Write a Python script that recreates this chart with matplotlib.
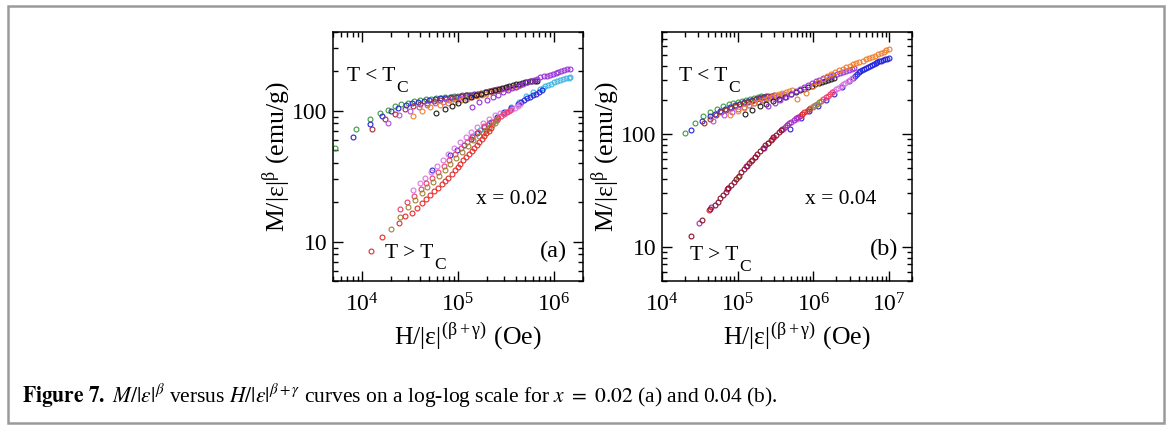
import matplotlib
matplotlib.use('Agg')
import matplotlib.pyplot as plt
from matplotlib.patches import Rectangle
from matplotlib.ticker import LogLocator, NullFormatter, FuncFormatter

# ---- x = 0.02, T < Tc branch (H/|eps|^(b+g) in Oe, M/|eps|^b in emu/g)
a_green_h = [5.2e3, 8.6e3, 1.21e4, 1.53e4, 1.87e4, 2.19e4, 2.57e4, 3.0e4, 3.5e4, 4.0e4, 4.6e4,
             5.2e4, 5.9e4, 6.6e4, 7.4e4, 8.2e4, 9.1e4, 1.0e5, 1.1e5, 1.2e5, 1.3e5]
a_green_m = [52, 72.5, 86, 96, 102, 108, 112, 115.5, 119, 121, 122.5,
             124, 125, 126, 127, 128, 129, 130, 131, 132, 133]
a_blue_h = [8.1e3, 1.22e4, 1.62e4, 2.0e4, 2.4e4, 2.85e4, 3.3e4, 3.8e4, 4.4e4, 5.0e4,
            5.7e4, 6.5e4, 7.4e4, 8.4e4, 9.5e4, 1.07e5, 1.2e5, 1.34e5, 1.48e5, 1.6e5]
a_blue_m = [63.5, 79, 91, 99, 105, 110, 114, 117, 119.5, 121.5,
            123, 124.5, 126, 127, 128.5, 130, 131, 132.5, 134, 135.5]
a_brown_h = [1.26e4, 1.74e4, 2.19e4, 2.79e4, 3.4e4, 4.05e4, 4.8e4, 5.6e4, 6.5e4, 7.5e4, 8.6e4,
             9.8e4, 1.11e5, 1.25e5, 1.4e5, 1.56e5, 1.73e5, 1.92e5, 2.12e5, 2.33e5, 2.5e5]
a_brown_m = [72.6, 86.5, 94.4, 102.5, 108, 112, 115.5, 118.5, 121, 123, 125,
             127, 129, 131, 133, 135, 137, 139, 141, 143, 144.5]
a_violet_h = [1.87e4, 2.43e4, 3.14e4, 3.9e4, 4.8e4, 5.8e4, 6.9e4, 8.1e4, 9.4e4, 1.08e5, 1.23e5,
              1.39e5, 1.56e5, 1.74e5, 1.93e5, 2.13e5, 2.34e5, 2.56e5, 2.8e5, 3.0e5, 3.2e5]
a_violet_m = [81, 92.7, 100, 106, 110.5, 114, 117.5, 120.5, 123, 125.5, 128,
              130.5, 133, 135.5, 138, 140.5, 143, 145.5, 148, 150, 152]
a_orange_h = [3.4e4, 4.25e4, 5.15e4, 6.46e4, 7.8e4, 9.2e4, 1.07e5, 1.23e5, 1.4e5, 1.58e5, 1.77e5,
              1.97e5, 2.18e5, 2.4e5, 2.63e5, 2.87e5, 3.12e5, 3.38e5, 3.65e5, 3.93e5, 4.2e5]
a_orange_m = [91, 99.4, 106, 110, 114, 117.5, 120.5, 123.5, 126.5, 129.5, 132.5,
              135.5, 138.5, 141, 143.5, 146, 148, 150, 151.5, 153, 154.5]
a_black_h = [5.95e4, 7.3e4, 8.7e4, 1.0e5, 1.18e5, 1.36e5, 1.55e5, 1.75e5, 1.96e5, 2.18e5, 2.41e5,
             2.65e5, 2.9e5, 3.16e5, 3.43e5, 3.71e5, 4.0e5, 4.3e5, 4.6e5, 4.92e5, 5.25e5,
             5.6e5, 5.95e5, 6.3e5, 6.7e5]
a_black_m = [95.5, 103, 109, 115, 120, 128, 132, 135.5, 139, 142, 145,
             147.5, 150, 152.5, 155, 157, 159.5, 161.5, 163.5, 165, 166.5,
             167.5, 168.5, 169, 170]
a_purple_h = [1.39e5, 1.67e5, 1.99e5, 2.3e5, 2.63e5, 2.97e5, 3.3e5, 3.65e5, 4.0e5, 4.4e5, 4.8e5,
              5.2e5, 5.7e5, 6.2e5, 6.7e5, 7.2e5, 7.8e5, 8.4e5, 9.0e5, 9.7e5, 1.04e6,
              1.11e6, 1.19e6, 1.27e6, 1.36e6, 1.47e6]
a_purple_m = [107, 116, 122, 128, 133, 139, 144, 148.5, 153, 157.5, 161.5,
              165.5, 169.5, 173, 176.5, 180, 183, 186, 189, 192, 195,
              198, 201.5, 204.5, 207.5, 210]

# ---- x = 0.02, T > Tc branch
a_red_h = [1.23e4, 1.62e4, 2.45e4, 2.82e4, 3.31e4, 3.72e4, 4.17e4, 4.62e4, 5.13e4, 5.62e4,
           6.17e4, 6.76e4, 7.33e4, 7.94e4, 8.61e4, 9.23e4, 9.89e4, 1.059e5, 1.135e5, 1.216e5,
           1.303e5, 1.396e5, 1.479e5, 1.567e5, 1.66e5, 1.758e5, 1.862e5, 1.972e5, 2.089e5, 2.213e5]
a_red_m = [8.5, 10.8, 13.9, 15.6, 16.6, 18.2, 19.6, 21.1, 22.6, 24.3,
           25.7, 27.5, 29.2, 30.9, 33.1, 35.1, 37.2, 39.4, 41.7, 44.2,
           46.8, 49.5, 52.1, 55.0, 57.8, 61.0, 64.1, 67.6, 70.5, 73.3]
a_olive_h = [1.99e4, 2.51e4, 3.02e4, 3.55e4, 4.17e4, 4.79e4, 5.5e4, 6.31e4, 7.24e4, 8.32e4, 9.55e4,
             1.096e5, 1.259e5, 1.445e5, 1.66e5, 1.82e5, 1.95e5, 2.089e5, 2.239e5, 2.399e5, 2.57e5]
a_olive_m = [12.5, 15.5, 18.4, 20.9, 23.4, 26.0, 28.8, 32.0, 35.5, 39.4, 43.7,
             48.4, 53.7, 59.6, 64.0, 67.6, 70.8, 74.1, 77.6, 81.3, 85.1]
a_pink_h = [2.51e4, 2.95e4, 3.47e4, 4.07e4, 4.68e4, 5.37e4, 6.17e4, 7.08e4, 8.13e4, 9.33e4,
            1.072e5, 1.23e5, 1.413e5, 1.622e5, 1.862e5, 2.089e5, 2.291e5, 2.455e5, 2.63e5,
            2.818e5, 3.02e5, 3.236e5, 3.467e5]
a_pink_m = [17.9, 20.0, 22.4, 25.1, 27.9, 30.9, 34.3, 38.0, 42.2, 46.8,
            51.9, 57.5, 63.1, 69.2, 75.9, 80.0, 82.2, 85.1, 88.1,
            91.2, 94.4, 97.7, 101.2]
a_orchid_h = [3.43e4, 3.98e4, 4.57e4, 5.25e4, 6.03e4, 6.92e4, 7.94e4, 9.12e4, 1.047e5, 1.202e5,
              1.38e5, 1.585e5, 1.82e5, 2.089e5, 2.399e5, 2.754e5, 3.162e5, 3.388e5, 3.631e5,
              3.89e5, 4.169e5, 4.467e5]
a_orchid_m = [25.0, 27.9, 30.9, 34.3, 38.0, 42.2, 46.8, 51.9, 57.5, 63.1,
              69.2, 75.0, 81.3, 87.1, 92.3, 95.5, 97.7, 100.0, 102.8,
              105.7, 108.9, 112.2]
a_blue2_h = [5.32e4, 8.26e4, 9.84e4, 1.155e5, 1.349e5, 1.585e5, 1.862e5, 2.188e5, 2.57e5, 3.02e5,
             3.548e5, 4.169e5, 4.571e5, 4.898e5, 5.248e5, 5.623e5, 6.026e5, 6.457e5, 6.918e5, 7.413e5]
a_blue2_m = [35, 46, 49.8, 55, 61, 67.6, 75.0, 82.2, 90.2, 97.7,
             105.9, 113.5, 117.5, 120.8, 124.5, 127.9, 131.8, 135.5, 139.6, 143.5]
a_cyan_h = [1.387e5, 1.69e5, 2.042e5, 2.455e5, 2.951e5, 3.548e5, 4.266e5, 5.129e5, 6.026e5, 7.079e5,
            7.586e5, 8.128e5, 8.71e5, 9.333e5, 1.0e6, 1.072e6, 1.148e6, 1.23e6, 1.318e6, 1.413e6, 1.479e6]
a_cyan_m = [64.3, 71.4, 78.5, 87.1, 96.6, 107.2, 117.5, 128.8, 138.0, 146.2,
            149.6, 153.5, 157.4, 161.1, 164.8, 168.7, 171.8, 174.6, 177.0, 178.6, 179.9]

# ---- x = 0.04, T < Tc branch
b_green_h = [1.99e4, 2.74e4, 3.53e4, 4.32e4, 5.3e4, 6.48e4, 7.6e4, 8.8e4, 1.0e5, 1.15e5,
             1.3e5, 1.47e5, 1.65e5, 1.85e5, 2.06e5]
b_green_m = [103, 126, 145, 157, 168, 177, 183, 188, 193, 197.5, 202, 206, 210, 214, 218]
b_blue_h = [2.43e4, 3.36e4, 4.3e4, 5.0e4, 5.9e4, 6.9e4, 8.0e4, 9.2e4, 1.05e5, 1.2e5, 1.36e5,
            1.53e5, 1.72e5, 1.92e5, 2.14e5, 2.37e5]
b_blue_m = [108, 131, 145, 151, 160, 168, 175, 181, 186, 191, 196, 200, 204.5, 208.5, 212.5, 216]
b_brown_h = [3.63e4, 4.3e4, 5.1e4, 6.0e4, 7.0e4, 8.1e4, 9.3e4, 1.07e5, 1.22e5, 1.38e5, 1.56e5,
             1.76e5, 1.98e5, 2.22e5, 2.48e5, 2.76e5, 3.05e5]
b_brown_m = [126, 137, 147, 156, 164, 171, 177, 183, 188.5, 193.5, 198,
             202.5, 207, 211, 215, 219, 223]
b_violet_h = [4.78e4, 6.5e4, 8.3e4, 1.0e5, 1.2e5, 1.4e5, 1.62e5, 1.86e5, 2.12e5, 2.4e5, 2.7e5,
              3.02e5, 3.36e5, 3.72e5, 4.1e5]
b_violet_m = [131, 148, 158, 166, 174, 181, 187, 193, 198.5, 204, 209, 214, 218.5, 223, 227]
b_orange_h = [7.93e4, 1.0e5, 1.2e5, 1.42e5, 1.66e5, 1.92e5, 2.2e5, 2.5e5, 2.82e5, 3.16e5, 3.52e5,
              3.9e5, 4.3e5, 4.72e5, 5.15e5]
b_orange_m = [147, 160, 170, 179, 187, 194, 201, 208, 214, 220, 225, 230, 235, 239, 243]
b_black_h = [1.25e5, 1.56e5, 1.96e5, 2.4e5, 2.9e5, 3.5e5, 4.2e5, 5.0e5, 5.8e5, 6.6e5, 7.5e5,
             8.5e5, 9.5e5, 1.06e6, 1.17e6, 1.29e6, 1.42e6, 1.56e6, 1.72e6, 1.89e6]
b_black_m = [150, 162, 177, 185, 196, 204, 213, 224, 234, 243, 252,
             261, 268, 275, 281, 288, 295, 302, 308, 314]
b_purple_h = [2.55e5, 3.07e5, 3.65e5, 4.3e5, 5.0e5, 5.8e5, 6.6e5, 7.5e5, 8.5e5, 9.6e5, 1.08e6,
              1.2e6, 1.34e6, 1.49e6, 1.65e6, 1.83e6, 2.02e6, 2.23e6, 2.46e6, 2.7e6, 2.96e6,
              3.22e6, 3.46e6]
b_purple_m = [178, 189, 200, 212, 226, 240, 252, 263, 274, 285, 295,
              304, 313, 321, 329, 336, 343, 350, 357, 364, 371, 378, 384]
b_orange2_h = [6.03e5, 8.0e5, 9.8e5, 1.15e6, 1.32e6, 1.5e6, 1.7e6, 1.92e6, 2.16e6, 2.42e6, 2.7e6,
               3.0e6, 3.33e6, 3.68e6, 4.05e6, 4.45e6, 4.9e6, 5.4e6, 5.9e6, 6.5e6, 7.1e6,
               7.8e6, 8.5e6, 9.2e6, 9.8e6]
b_orange2_m = [205, 232, 265, 290, 310, 327, 342, 356, 368, 380, 392,
               403, 414, 425, 436, 447, 458, 470, 482, 495, 508, 522, 537, 551, 564]

# ---- x = 0.04, T > Tc branch
b_maroon_h = [2.39e4, 3.36e4, 4.3e4, 5.01e4, 5.43e4, 5.89e4, 6.38e4, 6.92e4, 7.5e4, 8.13e4,
              8.81e4, 9.55e4, 1.035e5, 1.122e5, 1.216e5, 1.318e5, 1.429e5, 1.549e5, 1.679e5,
              1.82e5, 1.972e5, 2.138e5, 2.317e5, 2.512e5, 2.723e5, 2.951e5, 3.199e5, 3.467e5, 3.758e5]
b_maroon_m = [12.6, 17.4, 21.6, 23.4, 25.1, 26.9, 28.8, 30.8, 33.0, 35.3,
              37.7, 40.2, 42.9, 45.7, 48.8, 52.0, 55.5, 59.2, 63.0,
              66.8, 71.0, 75.2, 79.6, 84.1, 88.7, 93.3, 98.4, 103.3, 108.4]
b_magenta_h = [3.04e4, 4.5e4, 7.2e4, 1.3e5, 2.2e5, 3.89e5, 4.17e5, 4.47e5, 4.79e5, 5.13e5,
               5.5e5, 5.89e5, 6.31e5]
b_magenta_m = [16.2, 22.5, 32.3, 52.0, 76.0, 110.9, 115.1, 119.6, 124.2, 128.8, 133.4, 138.0, 142.9]
b_red_h = [4.19e4, 7.5e4, 1.5e5, 2.8e5, 6.61e5, 7.08e5, 7.59e5, 8.13e5, 8.71e5]
b_red_m = [21.2, 33.0, 58.0, 91.0, 145.9, 150.7, 155.2, 160.3, 165.2]
b_olive_h = [1.0e5, 2.5e5, 4.5e5, 9.12e5, 9.77e5, 1.047e6, 1.122e6, 1.202e6]
b_olive_m = [41.5, 84.0, 120.0, 168.7, 174.0, 179.9, 186.2, 192.8]
b_pink_h = [1.7e5, 4.0e5, 7.0e5, 1.259e6, 1.349e6, 1.445e6, 1.549e6, 1.66e6, 1.778e6]
b_pink_m = [63.0, 111.0, 150.0, 197.2, 204.2, 211.3, 218.8, 226.5, 234.4]
b_orchid_h = [3.0e5, 6.0e5, 1.0e6, 1.862e6, 1.995e6, 2.138e6, 2.291e6, 2.455e6, 2.63e6,
              2.818e6, 3.02e6, 3.236e6]
b_orchid_m = [95.0, 137.0, 178.0, 239.9, 248.3, 257.0, 266.1, 275.4, 284.4, 293.8, 302.7, 311.9]
b_blue2_h = [4.83e5, 6.89e5, 8.85e5, 1.14e6, 1.45e6, 1.85e6, 2.35e6, 2.95e6, 3.31e6, 3.51e6,
             3.72e6, 3.94e6, 4.17e6, 4.42e6, 4.68e6, 4.95e6, 5.25e6, 5.56e6, 5.89e6, 6.24e6,
             6.61e6, 7.0e6, 7.41e6, 7.85e6, 8.32e6, 8.81e6, 9.33e6, 1.0e7]
b_blue2_m = [110, 138, 160, 177, 200, 228, 262, 296, 316, 327,
             339, 351, 359, 367, 376, 385, 394, 401, 408, 416,
             424, 432, 439, 446, 453, 460, 466, 470]

colors = {
    'green': '#3d9a3d', 'blue': '#2323dc', 'brown': '#a12d2d', 'violet': '#b64ce2',
    'orange': '#ea8530', 'black': '#1b1b1b', 'purple': '#9630d6', 'red': '#e62b2b',
    'olive': '#9c8530', 'pink': '#f23a6c', 'orchid': '#d878e2', 'cyan': '#3bb3e3',
    'maroon': '#8c0f2e', 'magenta': '#a426cc', 'orange2': '#f07a26',
}

plt.rcParams.update({
    'font.family': ['Liberation Serif', 'DejaVu Serif'],
    'mathtext.fontset': 'stix',
    'font.size': 15,
    'axes.linewidth': 1.1,
})


def scatter(ax, h, m, color):
    ax.plot(h, m, linestyle='none', marker='o', ms=3.5, mfc='none',
            mec=color, mew=0.8)


def style_axes(ax, xlim, ylim):
    ax.set_xscale('log')
    ax.set_yscale('log')
    ax.set_xlim(*xlim)
    ax.set_ylim(*ylim)
    ax.xaxis.set_major_locator(LogLocator(base=10, numticks=20))
    ax.xaxis.set_minor_locator(LogLocator(base=10, subs=range(2, 10), numticks=20))
    ax.yaxis.set_minor_locator(LogLocator(base=10, subs=range(2, 10), numticks=20))
    ax.yaxis.set_major_formatter(FuncFormatter(lambda v, p: f'{v:g}'))
    ax.xaxis.set_minor_formatter(NullFormatter())
    ax.yaxis.set_minor_formatter(NullFormatter())
    ax.tick_params(which='both', direction='in', top=True, right=True, width=1.0)
    ax.tick_params(which='major', length=7, labelsize=17)
    ax.tick_params(which='minor', length=3.5)
    ax.tick_params(axis='x', which='major', pad=9)
    ax.tick_params(axis='y', which='major', pad=4)
    ax.set_xlabel(r'H/|ε|$^\mathregular{(β+γ)}$ (Oe)', fontsize=18.5, labelpad=3)
    ax.set_ylabel(r'M/|ε|$^\mathregular{β}$ (emu/g)', fontsize=18.5, labelpad=0)
    ax.xaxis.label.set_x(0.54)


def temp_label(ax, x, y, sign):
    # T </> T with a deep, slightly smaller subscript C
    t = ax.text(x, y, 'T %s T' % sign, transform=ax.transAxes, fontsize=15.5)
    ax.annotate('C', xy=(1, 0), xycoords=t, xytext=(0.3, -4.5),
                textcoords='offset points', fontsize=12.5, va='baseline')


fig = plt.figure(figsize=(11.71, 4.30), dpi=100)
ax_a = fig.add_axes([0.2844, 0.3465, 0.2135, 0.579])
ax_b = fig.add_axes([0.5653, 0.3465, 0.2135, 0.579])

# panel (a)
for name, h, m in [('green', a_green_h, a_green_m), ('blue', a_blue_h, a_blue_m),
                   ('brown', a_brown_h, a_brown_m), ('violet', a_violet_h, a_violet_m),
                   ('orange', a_orange_h, a_orange_m), ('black', a_black_h, a_black_m),
                   ('purple', a_purple_h, a_purple_m),
                   ('cyan', a_cyan_h, a_cyan_m), ('blue', a_blue2_h, a_blue2_m),
                   ('orchid', a_orchid_h, a_orchid_m), ('pink', a_pink_h, a_pink_m),
                   ('olive', a_olive_h, a_olive_m), ('red', a_red_h, a_red_m)]:
    scatter(ax_a, h, m, colors[name])
style_axes(ax_a, (5e3, 2e6), (5, 400))

# panel (b)
for name, h, m in [('green', b_green_h, b_green_m), ('blue', b_blue_h, b_blue_m),
                   ('brown', b_brown_h, b_brown_m), ('violet', b_violet_h, b_violet_m),
                   ('orange', b_orange_h, b_orange_m), ('black', b_black_h, b_black_m),
                   ('purple', b_purple_h, b_purple_m), ('orange2', b_orange2_h, b_orange2_m),
                   ('blue', b_blue2_h, b_blue2_m), ('orchid', b_orchid_h, b_orchid_m),
                   ('pink', b_pink_h, b_pink_m), ('olive', b_olive_h, b_olive_m),
                   ('red', b_red_h, b_red_m), ('magenta', b_magenta_h, b_magenta_m),
                   ('maroon', b_maroon_h, b_maroon_m)]:
    scatter(ax_b, h, m, colors[name])
style_axes(ax_b, (1e4, 2e7), (5, 800))

# annotations inside the panels
temp_label(ax_a, 0.056, 0.803, '<')
temp_label(ax_a, 0.208, 0.094, '>')
ax_a.text(0.573, 0.308, 'x = 0.02', transform=ax_a.transAxes, fontsize=15.5)
ax_a.text(0.936, 0.118, '(a)', transform=ax_a.transAxes, fontsize=17.5, ha='right', va='center')

temp_label(ax_b, 0.068, 0.803, '<')
temp_label(ax_b, 0.112, 0.084, '>')
ax_b.text(0.572, 0.308, 'x = 0.04', transform=ax_b.transAxes, fontsize=15.5)
ax_b.text(0.944, 0.125, '(b)', transform=ax_b.transAxes, fontsize=17.5, ha='right', va='center')

# frame and caption
fig.patches.append(Rectangle((0.0068, 0.0163), 0.9872, 0.9697, transform=fig.transFigure,
                             fill=False, edgecolor='#9a9a9a', linewidth=1.8))
fig.text(0.0188, 0.063,
         r'$\mathbf{Figure\ 7.}$ $M/|\varepsilon|^{\beta}$ versus $H/|\varepsilon|^{\beta+\gamma}$'
         r' curves on a log-log scale for $x\ =\ 0.02$ (a) and 0.04 (b).',
         fontsize=15.5, va='baseline')

fig.savefig('out.png', dpi=100)
